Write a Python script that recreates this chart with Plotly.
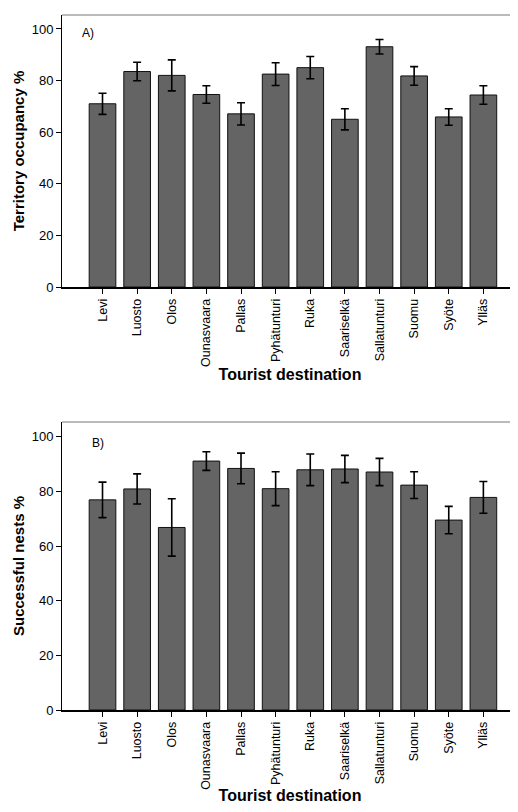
import plotly.graph_objects as go
from plotly.subplots import make_subplots

destinations = ["Levi", "Luosto", "Olos", "Ounasvaara", "Pallas", "Pyhätunturi",
                "Ruka", "Saariselkä", "Sallatunturi", "Suomu", "Syöte", "Ylläs"]
occupancy = [71.0, 83.5, 82.0, 74.6, 67.1, 82.5, 85.0, 65.0, 93.1, 81.8, 65.9, 74.4]
occupancy_err = [4.1, 3.6, 6.0, 3.4, 4.3, 4.4, 4.3, 4.1, 2.8, 3.6, 3.2, 3.6]
success = [76.9, 80.9, 66.8, 91.1, 88.4, 81.0, 87.9, 88.2, 87.1, 82.3, 69.5, 77.8]
success_err = [6.5, 5.5, 10.5, 3.4, 5.6, 6.2, 5.8, 5.0, 5.0, 4.9, 5.0, 5.8]

FONT = "Liberation Sans, Arial, sans-serif"

fig = make_subplots(rows=2, cols=1)

for row, vals, errs in [(1, occupancy, occupancy_err), (2, success, success_err)]:
    fig.add_trace(go.Bar(
        x=destinations, y=vals,
        marker=dict(color="#646464", line=dict(color="#111111", width=1)),
        width=0.77,
        error_y=dict(type="data", array=errs, visible=True, color="black",
                     thickness=1.6, width=4),
        showlegend=False,
    ), row=row, col=1)

ax_common = dict(
    showline=True, linecolor="black", ticks="outside", ticklen=5, tickcolor="black",
    showgrid=False, zeroline=False,
)
xt = dict(tickangle=-90, tickfont=dict(size=12.5), linewidth=1.5)
yt = dict(tickvals=[0, 20, 40, 60, 80, 100], tickfont=dict(size=13), linewidth=1,
          range=[0, 105.4])

fig.update_layout(
    width=510, height=796,
    margin=dict(l=54, r=0, t=7, b=94),
    plot_bgcolor="white", paper_bgcolor="white",
    font=dict(family=FONT, size=12, color="black"),
    xaxis=dict(domain=[0, 1], range=[-1.17, 12.0],
               title=dict(text="<b>Tourist destination</b>", font=dict(size=16), standoff=3),
               anchor="y", **xt, **ax_common),
    yaxis=dict(domain=[0.6086, 1.0],
               title=dict(text="<b>Territory occupancy %</b>", font=dict(size=15), standoff=3),
               anchor="x", **yt, **ax_common),
    xaxis2=dict(domain=[0, 1], range=[-1.17, 12.0],
                title=dict(text="<b>Tourist destination</b>", font=dict(size=16), standoff=3),
                anchor="y2", **xt, **ax_common),
    yaxis2=dict(domain=[0, 0.4144],
                title=dict(text="<b>Successful nests %</b>", font=dict(size=15), standoff=3),
                anchor="x2", **yt, **ax_common),
)

for xr, yr in [("x domain", "y domain"), ("x2 domain", "y2 domain")]:
    fig.add_shape(type="line", xref=xr, yref=yr, x0=0, x1=1, y0=1, y1=1,
                  line=dict(color="#777777", width=1.2))

fig.add_annotation(text="A)", xref="x domain", yref="y domain", x=0.039, y=0.934,
                   xanchor="left", yanchor="middle", showarrow=False, font=dict(size=12))
fig.add_annotation(text="B)", xref="x2 domain", yref="y2 domain", x=0.061, y=0.927,
                   xanchor="left", yanchor="middle", showarrow=False, font=dict(size=12))

fig.write_html("out.html")
